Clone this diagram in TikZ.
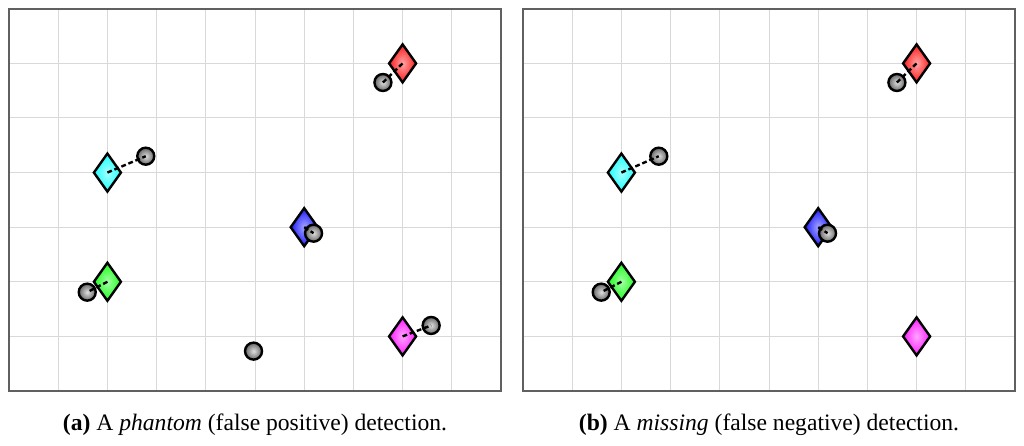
\documentclass[tikz,border=0pt]{standalone}
\usepackage{fontspec}
\setmainfont{Liberation Serif}
\usetikzlibrary{shapes.geometric}

\tikzset{
  target/.style={diamond, draw, line width=1.2pt, minimum width=14pt, minimum height=19.5pt,
    inner sep=0pt, shading=radial, inner color=#1!35, outer color=#1!90},
  meas/.style={circle, draw, line width=1.2pt, minimum size=8.5pt, inner sep=0pt,
    shading=radial, inner color=gray!25, outer color=black!60},
  link/.style={line width=1.2pt, dash pattern=on 2.4pt off 1.4pt},
  gridline/.style={gray!30, line width=0.5pt},
  frame/.style={draw=gray!75!black, line width=0.9pt},
  caption/.style={font=\fontsize{11.8}{14}\selectfont}
}

\begin{document}
\begin{tikzpicture}[x=24.6pt, y=27.3pt]
\useasboundingbox (-0.183,-1.007) rectangle (20.63,7.161);

% (a) phantom
\begin{scope}
	\foreach \x in {1,...,9}
		\draw[gridline] (\x,0) -- (\x,7);
	\foreach \y in {1,...,6}
		\draw[gridline] (0,\y) -- (10,\y);
	\draw[frame] (0,0) rectangle (10,7);

	\node[target=red] (ta1) at (8,6) {};
	\node[target=cyan] (ta2) at (2,4) {};
	\node[target=blue] (ta3) at (6,3) {};
	\node[target=green] (ta4) at (2,2) {};
	\node[target=magenta] (ta5) at (8,1) {};

	\node[meas] (ma1) at (7.6,5.65) {};
	\node[meas] (ma2) at (2.78,4.3) {};
	\node[meas] (ma3) at (6.19,2.89) {};
	\node[meas] (ma4) at (1.59,1.81) {};
	\node[meas] (ma5) at (8.58,1.2) {};
	\node[meas] (ma6) at (4.97,0.73) {};

	\foreach \i in {1,...,5}
		\draw[link] (ta\i.center) -- (ma\i.center);

	\node[caption] (capa) at (5,-0.62) {\textbf{(a)} A \textit{phantom} (false positive) detection.};
\end{scope}

% (b) missing
\begin{scope}[shift={(10.447,0)}]
	\foreach \x in {1,...,9}
		\draw[gridline] (\x,0) -- (\x,7);
	\foreach \y in {1,...,6}
		\draw[gridline] (0,\y) -- (10,\y);
	\draw[frame] (0,0) rectangle (10,7);

	\node[target=red] (tb1) at (8,6) {};
	\node[target=cyan] (tb2) at (2,4) {};
	\node[target=blue] (tb3) at (6,3) {};
	\node[target=green] (tb4) at (2,2) {};
	\node[target=magenta] (tb5) at (8,1) {};

	\node[meas] (mb1) at (7.6,5.65) {};
	\node[meas] (mb2) at (2.76,4.3) {};
	\node[meas] (mb3) at (6.19,2.89) {};
	\node[meas] (mb4) at (1.59,1.81) {};

	\foreach \i in {1,...,4}
		\draw[link] (tb\i.center) -- (mb\i.center);

	\node[caption] (capb) at (5,-0.62) {\textbf{(b)} A \textit{missing} (false negative) detection.};
\end{scope}
\end{tikzpicture}
\end{document}
